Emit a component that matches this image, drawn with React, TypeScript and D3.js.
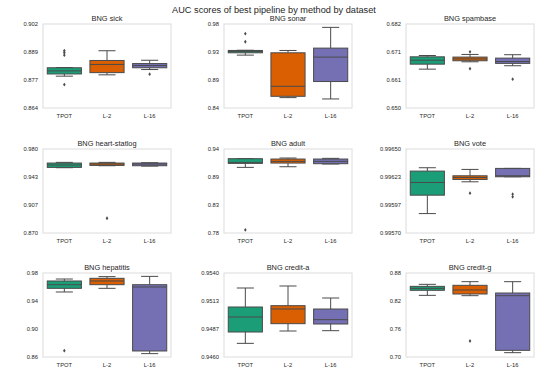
import React from "react";
import * as d3 from "d3";

const datasets = [
  "BNG sick", "BNG sonar", "BNG spambase",
  "BNG heart-statlog", "BNG adult", "BNG vote",
  "BNG hepatitis", "BNG credit-a", "BNG credit-g",
];
const methods = ["TPOT", "L-2", "L-16"];
const colors = ["#1b9e77", "#d95f02", "#7570b3"];

const yDomains: [number, number][] = [
  [0.864, 0.902], [0.84, 0.98], [0.65, 0.682],
  [0.87, 0.98], [0.78, 0.94], [0.9957, 0.9965],
  [0.86, 0.98], [0.946, 0.954], [0.7, 0.88],
];
const tickDecimals = [3, 2, 3, 3, 2, 5, 2, 4, 2];

// per dataset: [TPOT, L-2, L-16]
const whiskerLow = [
  [0.8784, 0.879, 0.8814],
  [0.9281, 0.8573, 0.8551],
  [0.6648, 0.6676, 0.6661],
  [0.9555, 0.9581, 0.9576],
  [0.905, 0.9062, 0.9114],
  [0.9958849, 0.9961877, 0.9962355],
  [0.9529, 0.9581, 0.8648],
  [0.9473, 0.948476, 0.948507],
  [0.8321, 0.8314, 0.7093],
];
const q1 = [
  [0.8794, 0.88, 0.8822],
  [0.932, 0.8595, 0.8841],
  [0.6667, 0.668, 0.667],
  [0.9559, 0.9585, 0.9581],
  [0.9126, 0.9132, 0.912],
  [0.9960602, 0.99621, 0.9962355],
  [0.9581, 0.9633, 0.8686],
  [0.94838, 0.949174, 0.949142],
  [0.8429, 0.835, 0.7143],
];
const median = [
  [0.8808, 0.8837, 0.8832],
  [0.9343, 0.8762, 0.9248],
  [0.6682, 0.6687, 0.6677],
  [0.959, 0.9603, 0.9603],
  [0.9145, 0.9164, 0.9164],
  [0.9961813, 0.9962291, 0.996245],
  [0.9633, 0.9686, 0.96],
  [0.949809, 0.950571, 0.949555],
  [0.8471, 0.8436, 0.8314],
];
const q3 = [
  [0.8822, 0.8855, 0.8841],
  [0.9359, 0.932, 0.9398],
  [0.6695, 0.6694, 0.669],
  [0.9616, 0.9616, 0.9616],
  [0.9215, 0.9209, 0.9209],
  [0.9962896, 0.996245, 0.9963152],
  [0.9686, 0.9724, 0.9633],
  [0.950762, 0.950889, 0.950571],
  [0.8514, 0.8536, 0.8371],
];
const whiskerHigh = [
  [0.8823, 0.8899, 0.8856],
  [0.9362, 0.9359, 0.9744],
  [0.67, 0.6704, 0.6703],
  [0.9625, 0.9625, 0.962],
  [0.9215, 0.9228, 0.9222],
  [0.9963215, 0.9963056, 0.9963152],
  [0.9714, 0.9748, 0.9752],
  [0.952571, 0.952762, 0.951619],
  [0.8557, 0.8614, 0.8614],
];
const outliers: number[][][] = [
  [[0.8899, 0.889, 0.8879, 0.8746], [], [0.8793]],
  [[0.9638, 0.9504], [], []],
  [[], [0.6714, 0.665], [0.661]],
  [[], [0.8893], []],
  [[0.7858], [], []],
  [[], [0.9960793], [0.9960698, 0.9960443]],
  [[0.8691], [], []],
  [[], [], []],
  [[], [0.7343], []],
];

const W = 547;
const H = 385;
const colLeft = [43, 224, 406];
const rowTop = [24, 149, 273];
const panelW = 128;
const panelH = 84;
const lineColor = "#4a4a4a";
const textColor = "#262626";
const font = "'Liberation Sans', Arial, sans-serif";

function Panel({ idx }: { idx: number }) {
  const col = idx % 3;
  const row = Math.floor(idx / 3);
  const x0 = colLeft[col];
  const y0 = rowTop[row];
  const [d0, d1] = yDomains[idx];
  const y = d3.scaleLinear().domain([d0, d1]).range([y0 + panelH, y0]);
  const x = d3.scaleBand().domain(methods).range([x0, x0 + panelW]).paddingInner(0.2).paddingOuter(0.1);
  const ticks = d3.range(4).map((i) => d0 + (i * (d1 - d0)) / 3);
  const bw = x.bandwidth();
  return (
    <g>
      <rect x={x0} y={y0} width={panelW} height={panelH} fill="white" stroke="#dcdcdc" strokeWidth={1} />
      <text x={x0 + panelW / 2} y={y0 - 3.5} textAnchor="middle" fontSize={7.4} fill={textColor} fontFamily={font}>
        {datasets[idx]}
      </text>
      {ticks.map((t, i) => (
        <text key={i} x={x0 - 5} y={y(t)} dy="0.35em" textAnchor="end" fontSize={5.8} fill={textColor} fontFamily={font}>
          {t.toFixed(tickDecimals[idx])}
        </text>
      ))}
      {methods.map((m, j) => {
        const cx = (x(m) as number) + bw / 2;
        const left = x(m) as number;
        const capW = bw * 0.5;
        return (
          <g key={m}>
            <text x={cx} y={y0 + panelH + 9.5} textAnchor="middle" fontSize={5.8} fill={textColor} fontFamily={font}>
              {m}
            </text>
            <line x1={cx} x2={cx} y1={y(q3[idx][j])} y2={y(whiskerHigh[idx][j])} stroke={lineColor} strokeWidth={1} />
            <line x1={cx} x2={cx} y1={y(q1[idx][j])} y2={y(whiskerLow[idx][j])} stroke={lineColor} strokeWidth={1} />
            <line x1={cx - capW / 2} x2={cx + capW / 2} y1={y(whiskerHigh[idx][j])} y2={y(whiskerHigh[idx][j])} stroke={lineColor} strokeWidth={1} />
            <line x1={cx - capW / 2} x2={cx + capW / 2} y1={y(whiskerLow[idx][j])} y2={y(whiskerLow[idx][j])} stroke={lineColor} strokeWidth={1} />
            <rect
              x={left}
              y={y(q3[idx][j])}
              width={bw}
              height={Math.max(0.5, y(q1[idx][j]) - y(q3[idx][j]))}
              fill={colors[j]}
              stroke={lineColor}
              strokeWidth={1}
            />
            <line x1={left} x2={left + bw} y1={y(median[idx][j])} y2={y(median[idx][j])} stroke={lineColor} strokeWidth={1} />
            {outliers[idx][j].map((v, k) => {
              const py = y(v);
              return (
                <path
                  key={k}
                  d={`M${cx},${py - 1.9}L${cx + 1.3},${py}L${cx},${py + 1.9}L${cx - 1.3},${py}Z`}
                  fill={lineColor}
                />
              );
            })}
          </g>
        );
      })}
    </g>
  );
}

export default function App() {
  return (
    <svg width={W} height={H} style={{ position: "absolute", left: 0, top: 0, background: "white" }}>
      <rect x={0} y={0} width={W} height={H} fill="white" />
      <text x={274} y={12.5} textAnchor="middle" fontSize={9.2} fill={textColor} fontFamily={font}>
        AUC scores of best pipeline by method by dataset
      </text>
      {datasets.map((_, i) => (
        <Panel key={i} idx={i} />
      ))}
    </svg>
  );
}
